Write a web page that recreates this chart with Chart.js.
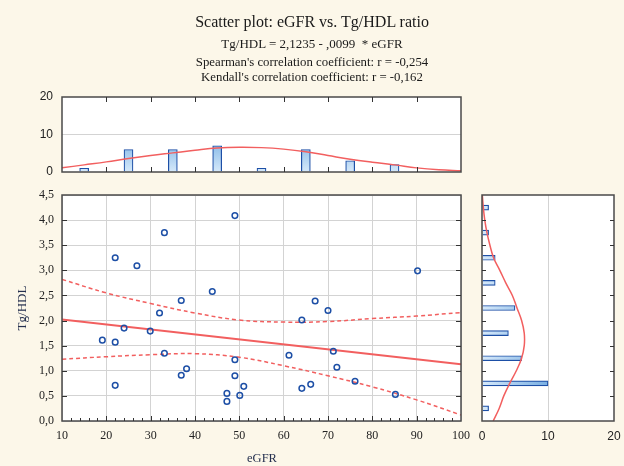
<!DOCTYPE html>
<html>
<head>
<meta charset="utf-8">
<title>Scatter plot: eGFR vs. Tg/HDL ratio</title>
<script src="https://cdn.jsdelivr.net/npm/chart.js@4.4.1/dist/chart.umd.min.js"></script>
<style>
    body { margin: 0; background: #fcf7e9; }
    #wrap { position: relative; width: 624px; height: 466px; overflow: hidden; font-family: 'Liberation Serif', 'Times New Roman', serif; color: #1a1a1a; }
    #wrap canvas { position: absolute; left: 0; top: 0; }
    .txt { position: absolute; left: 0; width: 624px; text-align: center; white-space: nowrap; }
    .t1 { top: 13px; font-size: 16px; }
    .t2 { top: 36px; font-size: 13px; }
    .t3 { top: 55px; font-size: 12.8px; }
    .t4 { top: 70px; font-size: 12.8px; }
    .xlab { position: absolute; left: 230px; width: 64px; top: 451px; text-align: center; font-size: 12.5px; color: #25304f; }
    .ylab { position: absolute; left: -10px; top: 300px; width: 64px; text-align: center; font-size: 13px; color: #25304f; transform: rotate(-90deg); }
</style>
</head>
<body>
<div id="wrap">
    <canvas id="mainChart" width="624" height="466"></canvas>
    <canvas id="topChart" width="624" height="466"></canvas>
    <canvas id="sideChart" width="624" height="466"></canvas>
    <div class="txt t1">Scatter plot: eGFR vs. Tg/HDL ratio</div>
    <div class="txt t2">Tg/HDL = 2,1235 - ,0099&nbsp; * eGFR</div>
    <div class="txt t3">Spearman's correlation coefficient: r = -0,254</div>
    <div class="txt t4">Kendall's correlation coefficient: r = -0,162</div>
    <div class="xlab">eGFR</div>
    <div class="ylab">Tg/HDL</div>
</div>
<script>
// dane punktów
const egfr  = [19.1, 22, 22, 22, 24, 26.9, 29.9, 32, 33.1, 33.1, 36.9, 36.9, 38.1, 43.9, 47.2, 47.2,
               49, 49, 49, 50.1, 51, 61.2, 64.1, 64.1, 66.1, 67.1, 70, 71.2, 72, 76.1, 85.2, 90.2];
const tghdl = [1.61, 3.25, 1.57, 0.71, 1.85, 3.09, 1.79, 2.15, 3.75, 1.35, 2.40, 0.91, 1.04, 2.58, 0.55, 0.39,
               4.09, 1.22, 0.90, 0.51, 0.69, 1.31, 0.65, 2.01, 0.73, 2.39, 2.20, 1.39, 1.07, 0.79, 0.53, 2.99];

// linia regresji i przedziały ufności
const fitX = [10, 100];
const fitY = [2.02, 1.13];
const bandX = [10, 20, 30, 40, 50, 60, 70, 80, 90, 100];
const bandUpper = [2.82, 2.55, 2.34, 2.15, 2.01, 1.97, 1.98, 2.04, 2.09, 2.16];
const bandLower = [1.23, 1.28, 1.32, 1.34, 1.27, 1.10, 0.90, 0.68, 0.42, 0.12];

// histogram eGFR (góra)
const topBinX = [15, 25, 35, 45, 55, 65, 75, 85];
const topCount = [1, 6, 6, 7, 1, 6, 3, 2];
const topCurveX = [10, 15, 20, 25, 30, 35, 40, 45, 50, 55, 60, 65, 70, 75, 80, 85, 90, 95, 100];
const topCurveY = [1.1, 1.9, 2.7, 3.6, 4.4, 5.1, 5.8, 6.4, 6.6, 6.5, 6.1, 5.4, 4.4, 3.4, 2.6, 1.9, 1.1, 0.6, 0.35];

// histogram Tg/HDL (prawa strona)
const sideBinY = [0.25, 0.75, 1.25, 1.75, 2.25, 2.75, 3.25, 3.75, 4.25];
const sideCount = [1, 10, 6, 4, 5, 2, 2, 1, 1];
const sideCurveY = [0, 0.25, 0.5, 0.75, 1, 1.25, 1.5, 1.75, 2, 2.25, 2.5, 2.75, 3, 3.25, 3.5, 3.75, 4, 4.25, 4.5];
const sideCurveX = [1.7, 2.6, 3.3, 4.2, 5.2, 6.0, 6.4, 6.4, 6.0, 5.3, 4.6, 3.6, 2.7, 1.75, 1.2, 0.75, 0.42, 0.2, 0.05];

const xTicks = [10, 20, 30, 40, 50, 60, 70, 80, 90, 100];
const yTicks = [0, 0.5, 1, 1.5, 2, 2.5, 3, 3.5, 4, 4.5];
const countTicks = [0, 10, 20];

const RED = '#f25f5f';
const BLUE = '#1d4fa6';
const GRID = '#d3d3d3';

Chart.defaults.font.family = "'Liberation Serif', 'Times New Roman', serif";
Chart.defaults.font.size = 12;
Chart.defaults.color = '#222';

function zip(xs, ys) {
    return xs.map((x, i) => ({ x: x, y: ys[i] }));
}

function comma(v) {
    return v.toFixed(1).replace('.', ',');
}

// białe tło obszaru wykresu i ramka
const frame = {
    id: 'frame',
    beforeDraw(chart) {
        const a = chart.chartArea, ctx = chart.ctx;
        ctx.save();
        ctx.fillStyle = '#fff';
        ctx.fillRect(a.left, a.top, a.right - a.left, a.bottom - a.top);
        ctx.restore();
    },
    afterDraw(chart) {
        const a = chart.chartArea, ctx = chart.ctx;
        ctx.save();
        ctx.strokeStyle = '#4a4a4a';
        ctx.lineWidth = 1.5;
        ctx.strokeRect(a.left, a.top, a.right - a.left, a.bottom - a.top);
        ctx.restore();
    }
};

// krótkie kreski skali skierowane do środka
const innerTicks = {
    id: 'innerTicks',
    afterDraw(chart, args, opts) {
        const a = chart.chartArea, ctx = chart.ctx;
        ctx.save();
        ctx.strokeStyle = '#333';
        ctx.lineWidth = 1;
        (opts.marks || []).forEach(m => {
            const sc = chart.scales[m.scale];
            m.values.forEach(v => {
                const p = Math.round(sc.getPixelForValue(v)) + 0.5;
                ctx.beginPath();
                if (m.edge === 'bottom') { ctx.moveTo(p, a.bottom); ctx.lineTo(p, a.bottom - m.len); }
                if (m.edge === 'top') { ctx.moveTo(p, a.top); ctx.lineTo(p, a.top + m.len); }
                if (m.edge === 'left') { ctx.moveTo(a.left, p); ctx.lineTo(a.left + m.len, p); }
                if (m.edge === 'right') { ctx.moveTo(a.right, p); ctx.lineTo(a.right - m.len, p); }
                ctx.stroke();
            });
        });
        ctx.restore();
    }
};

const minorX = [];
for (let v = 12; v < 100; v += 2) if (v % 10 !== 0) minorX.push(v);
const midX = xTicks.slice(1, -1);
const midY = yTicks.slice(1, -1);

// wykres główny
new Chart(document.getElementById('mainChart'), {
    type: 'scatter',
    data: {
        datasets: [
            { data: zip(egfr, tghdl), pointRadius: 2.8, pointBorderWidth: 1.5, borderColor: BLUE, backgroundColor: 'rgba(255,255,255,0)' },
            { data: zip(fitX, fitY), showLine: true, pointRadius: 0, borderColor: RED, borderWidth: 2 },
            { data: zip(bandX, bandUpper), showLine: true, tension: 0.4, pointRadius: 0, borderColor: RED, borderWidth: 1.5, borderDash: [4, 3] },
            { data: zip(bandX, bandLower), showLine: true, tension: 0.4, pointRadius: 0, borderColor: RED, borderWidth: 1.5, borderDash: [4, 3] }
        ]
    },
    options: {
        responsive: false,
        animation: false,
        layout: { padding: { left: 10, right: 163, top: 195, bottom: 0 } },
        plugins: {
            legend: { display: false },
            tooltip: { enabled: false },
            innerTicks: { marks: [
                { scale: 'x', edge: 'bottom', values: midX, len: 5 },
                { scale: 'x', edge: 'bottom', values: minorX, len: 3 },
                { scale: 'y', edge: 'right', values: midY, len: 5 },
                { scale: 'y', edge: 'left', values: midY, len: 5 }
            ] }
        },
        scales: {
            x: {
                type: 'linear', min: 10, max: 100,
                afterFit: s => { s.height = 45; },
                afterBuildTicks: s => { s.ticks = xTicks.map(v => ({ value: v })); },
                ticks: { padding: 8, maxRotation: 0 },
                grid: { color: GRID, drawTicks: false },
                border: { display: false }
            },
            y: {
                type: 'linear', min: 0, max: 4.5,
                afterFit: s => { s.width = 52; },
                afterBuildTicks: s => { s.ticks = yTicks.map(v => ({ value: v })); },
                ticks: { padding: 8, callback: v => comma(v) },
                grid: { color: GRID, drawTicks: false },
                border: { display: false }
            }
        }
    },
    plugins: [frame, innerTicks]
});

// histogram eGFR
new Chart(document.getElementById('topChart'), {
    type: 'bar',
    data: {
        datasets: [
            { type: 'line', data: zip(topCurveX, topCurveY), tension: 0.4, pointRadius: 0, borderColor: RED, borderWidth: 1.5 },
            { data: zip(topBinX, topCount), barThickness: 9, borderColor: BLUE, borderWidth: 1.2, borderSkipped: 'bottom',
              backgroundColor: ctx => {
                  const a = ctx.chart.chartArea;
                  if (!a) return '#b3d3f0';
                  const g = ctx.chart.ctx.createLinearGradient(0, a.bottom, 0, a.bottom - 30);
                  g.addColorStop(0, '#d6e9fa');
                  g.addColorStop(1, '#86b9e7');
                  return g;
              } }
        ]
    },
    options: {
        responsive: false,
        animation: false,
        layout: { padding: { left: 10, right: 163, top: 97, bottom: 294 } },
        plugins: {
            legend: { display: false },
            tooltip: { enabled: false },
            innerTicks: { marks: [
                { scale: 'x', edge: 'top', values: midX, len: 5 },
                { scale: 'x', edge: 'bottom', values: midX, len: 5 }
            ] }
        },
        scales: {
            x: { type: 'linear', min: 10, max: 100, display: false, offset: false },
            y: {
                type: 'linear', min: 0, max: 20,
                afterFit: s => { s.width = 52; },
                afterBuildTicks: s => { s.ticks = countTicks.map(v => ({ value: v })); },
                ticks: { padding: 9, font: { family: "'Liberation Sans', sans-serif", size: 12 } },
                grid: { color: c => c.tick && c.tick.value === 10 ? GRID : 'rgba(0,0,0,0)', drawTicks: false },
                border: { display: false }
            }
        }
    },
    plugins: [frame, innerTicks]
});

// histogram Tg/HDL
new Chart(document.getElementById('sideChart'), {
    type: 'bar',
    data: {
        datasets: [
            { type: 'line', data: zip(sideCurveX, sideCurveY), tension: 0.4, pointRadius: 0, borderColor: RED, borderWidth: 1.5 },
            { data: zip(sideCount, sideBinY), barThickness: 5, borderColor: BLUE, borderWidth: 1.2, borderSkipped: 'left',
              backgroundColor: ctx => {
                  const a = ctx.chart.chartArea;
                  if (!a) return '#b3d3f0';
                  const g = ctx.chart.ctx.createLinearGradient(a.left, 0, a.left + 66, 0);
                  g.addColorStop(0, '#d6e9fa');
                  g.addColorStop(1, '#79afe2');
                  return g;
              } }
        ]
    },
    options: {
        indexAxis: 'y',
        responsive: false,
        animation: false,
        layout: { padding: { left: 482, right: 10, top: 195, bottom: 0 } },
        plugins: {
            legend: { display: false },
            tooltip: { enabled: false },
            innerTicks: { marks: [
                { scale: 'y', edge: 'left', values: midY, len: 4 },
                { scale: 'y', edge: 'right', values: midY, len: 4 }
            ] }
        },
        scales: {
            x: {
                type: 'linear', min: 0, max: 20,
                afterFit: s => { s.height = 45; s.paddingLeft = 0; s.paddingRight = 0; },
                afterBuildTicks: s => { s.ticks = countTicks.map(v => ({ value: v })); },
                ticks: { padding: 8, font: { family: "'Liberation Sans', sans-serif", size: 12 } },
                grid: { color: c => c.tick && c.tick.value === 10 ? GRID : 'rgba(0,0,0,0)', drawTicks: false },
                border: { display: false }
            },
            y: { type: 'linear', min: 0, max: 4.5, display: false, offset: false }
        }
    },
    plugins: [frame, innerTicks]
});
</script>
</body>
</html>
